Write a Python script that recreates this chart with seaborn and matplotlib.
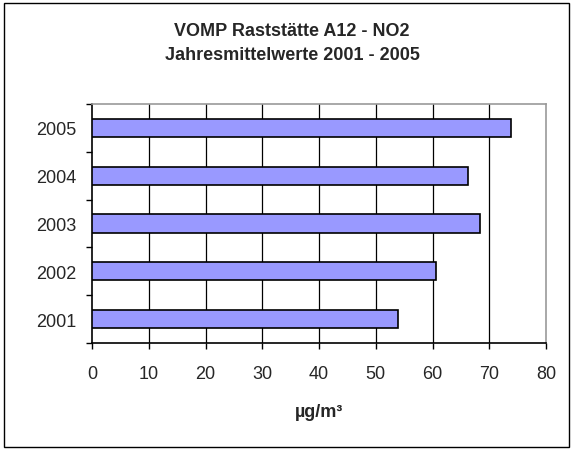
import seaborn as sb
import matplotlib.pyplot as plt
import matplotlib.patches as patches
import pandas as pd

# Data
years = ["2005", "2004", "2003", "2002", "2001"]
no2_values = [73.9, 66.3, 68.4, 60.7, 54.0]
x_ticks = [0, 10, 20, 30, 40, 50, 60, 70, 80]

df = pd.DataFrame({"year": years, "value": no2_values})

sb.set_style("white")
plt.rcParams["font.family"] = ["Liberation Sans", "DejaVu Sans"]

fig = plt.figure(figsize=(5.73, 4.52), dpi=100)
ax = fig.add_axes([92 / 573, 1 - 344 / 452, (546 - 92) / 573, (344 - 105) / 452])

sb.barplot(data=df, x="value", y="year", order=years, orient="h", color="#9999FF",
           saturation=1, width=0.38, edgecolor="black", linewidth=1.2, ax=ax, zorder=3)

ax.set_xlim(0, 80)
ax.set_ylim(4.5, -0.5)
ax.set_xticks(x_ticks)
ax.set_xticklabels([str(t) for t in x_ticks], fontsize=13)
ax.set_yticks(range(len(years)))
ax.set_yticklabels(years, fontsize=13)
ax.set_yticks([i - 0.5 for i in range(len(years) + 1)], minor=True)
ax.tick_params(axis="y", which="major", length=0, pad=11)
ax.tick_params(axis="y", which="minor", length=4, direction="out", color="black", width=1, left=True)
ax.tick_params(axis="x", which="major", length=4, direction="out", color="black", width=1, bottom=True, pad=12)

for t in x_ticks[1:-1]:
    ax.axvline(t, color="black", linewidth=0.9, zorder=1)

for side in ["top", "right"]:
    ax.spines[side].set_color("#999999")
    ax.spines[side].set_linewidth(1.2)
for side in ["left", "bottom"]:
    ax.spines[side].set_color("black")
    ax.spines[side].set_linewidth(1.2)

ax.set_xlabel("")
ax.set_ylabel("")
fig.text(0.5 * (92 + 546) / 573, 1 - 413 / 452, "µg/m³", ha="center", va="center",
         fontsize=13, fontweight="bold")

fig.text(292 / 573, 1 - 31 / 452, "VOMP Raststätte A12 - NO2", ha="center", va="center",
         fontsize=13, fontweight="bold")
fig.text(292 / 573, 1 - 56 / 452, "Jahresmittelwerte 2001 - 2005", ha="center", va="center",
         fontsize=13, fontweight="bold")

fig.patches.append(patches.Rectangle((4 / 573, 4 / 452), 565 / 573, 444 / 452, transform=fig.transFigure,
                                     fill=False, edgecolor="black", linewidth=1))

fig.savefig("out.png", dpi=100)
